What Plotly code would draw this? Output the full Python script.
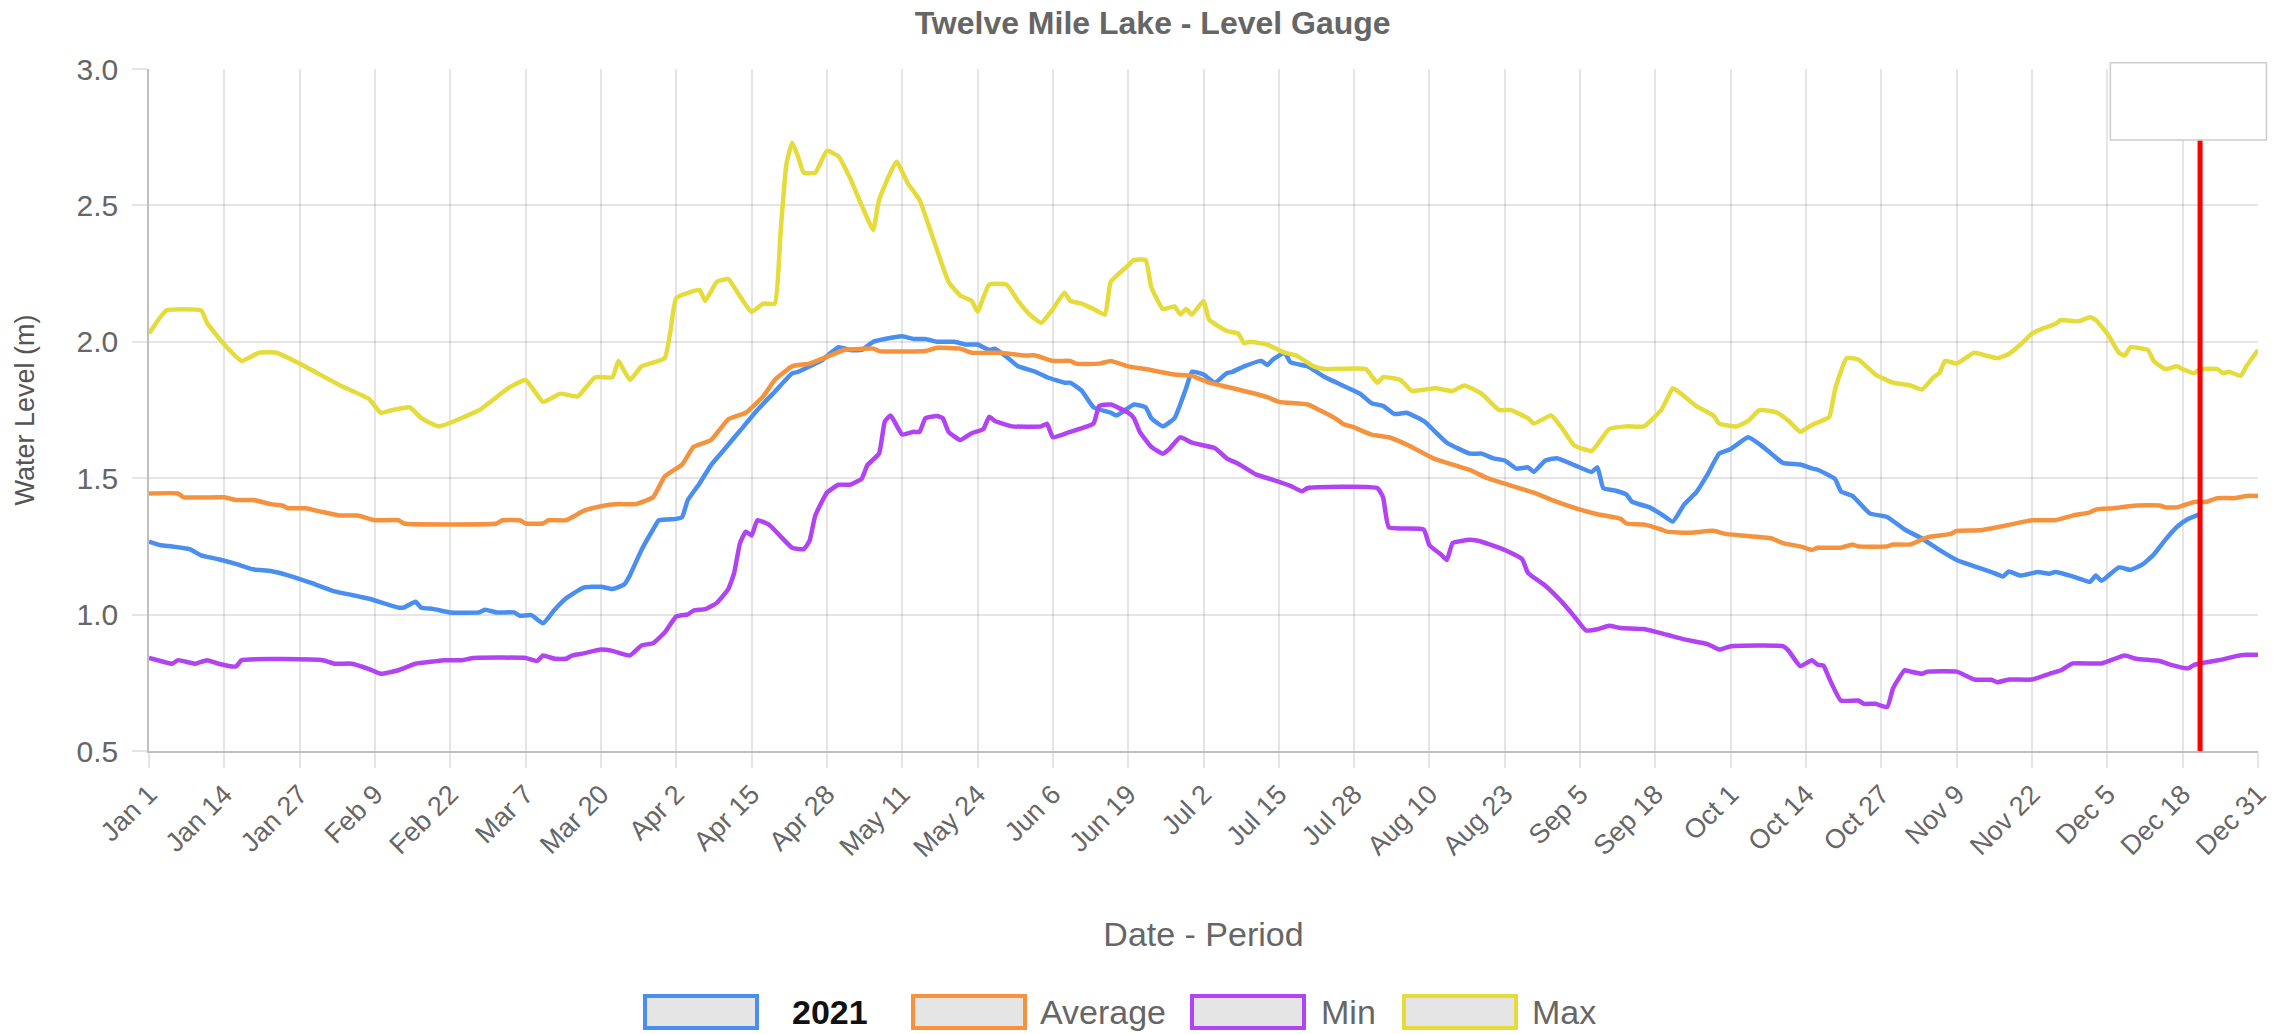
"""
Twelve Mile Lake - 水位图
2021 年水位与历年平均 / 最低 / 最高对比
"""
import plotly.graph_objects as go
import pandas as pd

YEAR_START = "2021-01-01"

# 2021 (日序号, 水位 m)
DAYS_2021 = [0, 2, 4, 7, 9, 12, 15, 18, 21, 24, 28, 32, 35, 38, 43, 44, 46, 47, 49, 52,
             57, 58, 60, 63, 64, 66, 68, 70, 72, 75, 78, 80, 82, 83, 85, 87, 88, 91, 92, 93,
             95, 97, 99, 102, 105, 108, 111, 112, 115, 116, 119, 121, 123, 125, 127, 130, 132, 134, 136, 139,
             141, 143, 145, 146, 148, 150, 153, 155, 158, 159, 161, 163, 166, 167, 170, 172, 173, 175, 177, 179,
             180, 182, 184, 186, 187, 189, 192, 193, 194, 196, 197, 200, 201, 203, 206, 209, 211, 213, 215, 217,
             220, 222, 224, 228, 230, 232, 234, 236, 238, 239, 241, 243, 246, 249, 250, 251, 253, 255, 256, 259,
             261, 263, 265, 267, 269, 271, 273, 276, 278, 280, 282, 285, 287, 288, 291, 292, 294, 297, 300, 303,
             306, 309, 312, 316, 318, 320, 321, 323, 326, 328, 329, 332, 333, 335, 336, 337, 340, 342, 344, 346,
             348, 350, 352, 354]
LEVEL_2021 = [1.267, 1.254, 1.25, 1.24, 1.217, 1.203, 1.186, 1.166, 1.16, 1.144, 1.116, 1.085, 1.072, 1.058, 1.026, 1.026, 1.047, 1.025, 1.021, 1.008,
              1.008, 1.018, 1.008, 1.008, 0.996, 0.998, 0.968, 1.018, 1.06, 1.099, 1.102, 1.094, 1.11, 1.144, 1.237, 1.312, 1.346, 1.351, 1.357, 1.42,
              1.48, 1.548, 1.598, 1.674, 1.75, 1.817, 1.884, 1.89, 1.92, 1.93, 1.98, 1.97, 1.97, 2.0, 2.01, 2.02, 2.01, 2.01, 2.0, 2.0,
              1.99, 1.99, 1.97, 1.975, 1.945, 1.91, 1.89, 1.87, 1.85, 1.85, 1.82, 1.76, 1.74, 1.73, 1.77, 1.76, 1.72, 1.69, 1.72, 1.83,
              1.89, 1.88, 1.85, 1.885, 1.89, 1.91, 1.93, 1.915, 1.935, 1.96, 1.925, 1.91, 1.897, 1.87, 1.84, 1.81, 1.775, 1.765, 1.735, 1.74,
              1.71, 1.67, 1.63, 1.59, 1.59, 1.573, 1.565, 1.535, 1.54, 1.523, 1.565, 1.573, 1.548, 1.523, 1.54, 1.464, 1.455, 1.44, 1.413, 1.393,
              1.368, 1.341, 1.405, 1.447, 1.514, 1.59, 1.607, 1.65, 1.624, 1.59, 1.556, 1.55, 1.536, 1.531, 1.497, 1.452, 1.435, 1.371, 1.358, 1.312,
              1.279, 1.237, 1.2, 1.17, 1.156, 1.14, 1.158, 1.143, 1.156, 1.15, 1.156, 1.14, 1.133, 1.12, 1.143, 1.124, 1.173, 1.164, 1.183, 1.22,
              1.274, 1.321, 1.351, 1.368]

# 平均
DAYS_AVG = [0, 5, 6, 13, 15, 18, 21, 23, 24, 27, 30, 33, 36, 39, 43, 44, 60, 61, 64, 65,
            68, 69, 72, 75, 78, 81, 84, 87, 89, 92, 94, 97, 100, 103, 106, 108, 111, 114, 117, 120,
            125, 126, 134, 136, 140, 142, 147, 151, 153, 156, 159, 160, 164, 166, 169, 172, 177, 180, 183, 185,
            188, 193, 195, 200, 202, 205, 206, 208, 211, 214, 217, 222, 225, 228, 231, 234, 239, 243, 247, 250,
            254, 255, 258, 261, 262, 266, 270, 272, 275, 280, 282, 285, 287, 288, 292, 294, 295, 300, 301, 304,
            307, 311, 312, 316, 319, 323, 325, 329, 332, 335, 336, 339, 343, 347, 348, 350, 353, 355, 357, 360,
            362, 364]
LEVEL_AVG = [1.444, 1.444, 1.43, 1.43, 1.42, 1.42, 1.405, 1.4, 1.39, 1.39, 1.376, 1.363, 1.363, 1.346, 1.346, 1.334, 1.334, 1.346, 1.346, 1.334,
             1.334, 1.346, 1.346, 1.38, 1.397, 1.405, 1.405, 1.43, 1.506, 1.55, 1.615, 1.64, 1.716, 1.74, 1.8, 1.86, 1.91, 1.92, 1.945, 1.97,
             1.975, 1.966, 1.966, 1.978, 1.975, 1.96, 1.96, 1.95, 1.95, 1.93, 1.93, 1.92, 1.92, 1.93, 1.91, 1.9, 1.88, 1.875, 1.85, 1.84,
             1.825, 1.797, 1.78, 1.77, 1.75, 1.716, 1.7, 1.686, 1.66, 1.65, 1.624, 1.57, 1.55, 1.53, 1.5, 1.48, 1.447, 1.413, 1.385, 1.368,
             1.351, 1.334, 1.33, 1.312, 1.304, 1.3, 1.307, 1.296, 1.29, 1.28, 1.262, 1.25, 1.237, 1.245, 1.245, 1.257, 1.25, 1.25, 1.257, 1.257,
             1.284, 1.296, 1.307, 1.309, 1.32, 1.338, 1.346, 1.346, 1.363, 1.375, 1.385, 1.39, 1.4, 1.4, 1.393, 1.393, 1.413, 1.413, 1.427, 1.427,
             1.435, 1.435]

# 最低
DAYS_MIN = [0, 2, 4, 5, 8, 10, 12, 15, 16, 30, 32, 35, 38, 40, 43, 46, 49, 51, 54, 56,
            65, 67, 68, 70, 72, 73, 75, 78, 80, 83, 85, 87, 89, 91, 93, 94, 96, 98, 100, 101,
            102, 103, 104, 105, 107, 109, 111, 113, 114, 115, 117, 119, 121, 123, 124, 126, 127, 128, 130, 132,
            133, 134, 136, 137, 138, 140, 142, 144, 145, 146, 149, 154, 155, 156, 159, 163, 164, 166, 169, 170,
            171, 173, 175, 176, 178, 180, 184, 186, 188, 191, 194, 197, 199, 200, 212, 213, 214, 220, 221, 223,
            224, 225, 228, 230, 234, 237, 238, 241, 244, 246, 248, 250, 252, 254, 258, 262, 265, 269, 271, 273,
            282, 283, 285, 287, 288, 289, 290, 292, 295, 296, 298, 300, 301, 303, 304, 306, 307, 312, 315, 318,
            319, 321, 325, 328, 330, 332, 337, 341, 343, 347, 349, 352, 353, 355, 358, 360, 362, 364]
LEVEL_MIN = [0.841, 0.83, 0.82, 0.833, 0.82, 0.833, 0.82, 0.81, 0.833, 0.833, 0.82, 0.82, 0.8, 0.783, 0.796, 0.82, 0.828, 0.833, 0.833, 0.841,
             0.841, 0.83, 0.85, 0.838, 0.838, 0.85, 0.858, 0.872, 0.867, 0.85, 0.887, 0.895, 0.934, 0.993, 1.001, 1.015, 1.02, 1.043, 1.094, 1.153,
             1.262, 1.304, 1.29, 1.346, 1.33, 1.287, 1.245, 1.24, 1.27, 1.363, 1.447, 1.476, 1.476, 1.498, 1.548, 1.59, 1.708, 1.73, 1.66, 1.67,
             1.67, 1.72, 1.728, 1.72, 1.67, 1.64, 1.665, 1.68, 1.725, 1.71, 1.69, 1.69, 1.7, 1.65, 1.67, 1.7, 1.765, 1.77, 1.74, 1.72,
             1.67, 1.615, 1.59, 1.605, 1.65, 1.63, 1.61, 1.573, 1.553, 1.514, 1.494, 1.472, 1.452, 1.464, 1.464, 1.43, 1.32, 1.312, 1.254, 1.22,
             1.2, 1.262, 1.274, 1.267, 1.237, 1.203, 1.153, 1.106, 1.043, 0.993, 0.942, 0.946, 0.959, 0.951, 0.947, 0.926, 0.909, 0.892, 0.872, 0.884,
             0.884, 0.867, 0.811, 0.833, 0.816, 0.813, 0.766, 0.685, 0.685, 0.673, 0.673, 0.661, 0.729, 0.796, 0.791, 0.783, 0.791, 0.791, 0.762, 0.761,
             0.752, 0.762, 0.762, 0.783, 0.796, 0.821, 0.821, 0.85, 0.838, 0.83, 0.816, 0.803, 0.816, 0.825, 0.836, 0.847, 0.853, 0.853]

# 最高
DAYS_MAX = [0, 3, 9, 10, 13, 16, 19, 22, 26, 33, 38, 40, 42, 45, 47, 50, 57, 62, 65, 68,
            71, 74, 77, 80, 81, 83, 85, 89, 90, 91, 95, 96, 98, 100, 101, 104, 106, 108, 109, 110,
            111, 112, 113, 115, 117, 119, 121, 123, 125, 126, 129, 131, 133, 135, 138, 140, 142, 143, 145, 148,
            150, 152, 154, 156, 158, 159, 161, 163, 165, 166, 169, 170, 172, 173, 175, 177, 178, 179, 180, 182,
            183, 186, 188, 189, 190, 193, 196, 198, 201, 203, 210, 212, 213, 216, 218, 222, 225, 227, 230, 233,
            235, 238, 239, 242, 244, 246, 249, 252, 255, 258, 261, 262, 263, 265, 267, 270, 271, 274, 276, 278,
            281, 283, 285, 287, 290, 291, 293, 295, 298, 301, 304, 306, 308, 309, 310, 312, 315, 317, 319, 321,
            323, 325, 327, 329, 330, 333, 335, 336, 338, 340, 341, 342, 345, 346, 348, 350, 351, 353, 354, 357,
            358, 359, 361, 362, 364]
LEVEL_MAX = [2.03, 2.115, 2.115, 2.07, 1.99, 1.93, 1.96, 1.96, 1.92, 1.84, 1.79, 1.74, 1.75, 1.76, 1.72, 1.69, 1.75, 1.83, 1.86, 1.78,
             1.81, 1.8, 1.87, 1.87, 1.93, 1.86, 1.91, 1.94, 2.04, 2.16, 2.19, 2.15, 2.22, 2.23, 2.2, 2.11, 2.14, 2.14, 2.4, 2.65,
             2.73, 2.68, 2.62, 2.62, 2.7, 2.68, 2.6, 2.5, 2.41, 2.52, 2.66, 2.58, 2.52, 2.4, 2.22, 2.17, 2.15, 2.11, 2.21, 2.21,
             2.15, 2.1, 2.07, 2.12, 2.18, 2.15, 2.14, 2.12, 2.1, 2.22, 2.28, 2.3, 2.3, 2.2, 2.12, 2.13, 2.1, 2.12, 2.1, 2.15,
             2.08, 2.04, 2.03, 1.995, 2.0, 1.99, 1.96, 1.95, 1.91, 1.9, 1.9, 1.85, 1.87, 1.86, 1.82, 1.83, 1.82, 1.84, 1.81, 1.75,
             1.75, 1.72, 1.7, 1.73, 1.68, 1.62, 1.6, 1.68, 1.69, 1.69, 1.75, 1.79, 1.83, 1.8, 1.765, 1.73, 1.7, 1.69, 1.71, 1.75,
             1.74, 1.71, 1.67, 1.695, 1.725, 1.825, 1.94, 1.935, 1.88, 1.85, 1.84, 1.825, 1.87, 1.885, 1.93, 1.92, 1.96, 1.95, 1.94, 1.955,
             1.99, 2.03, 2.05, 2.065, 2.08, 2.075, 2.09, 2.08, 2.03, 1.96, 1.95, 1.98, 1.97, 1.93, 1.9, 1.91, 1.9, 1.885, 1.9, 1.9,
             1.885, 1.89, 1.875, 1.91, 1.97]

# 当前日期 (Dec 21)
CURRENT_DAY = 354

TICK_DAYS = list(range(0, 365, 13))
TICK_LABELS = ["Jan 1", "Jan 14", "Jan 27", "Feb 9", "Feb 22", "Mar 7", "Mar 20", "Apr 2",
               "Apr 15", "Apr 28", "May 11", "May 24", "Jun 6", "Jun 19", "Jul 2", "Jul 15",
               "Jul 28", "Aug 10", "Aug 23", "Sep 5", "Sep 18", "Oct 1", "Oct 14", "Oct 27",
               "Nov 9", "Nov 22", "Dec 5", "Dec 18", "Dec 31"]

SERIES = [
    ("2021", DAYS_2021, LEVEL_2021, "#4a8ff0"),
    ("Average", DAYS_AVG, LEVEL_AVG, "#f5923e"),
    ("Min", DAYS_MIN, LEVEL_MIN, "#b143f2"),
    ("Max", DAYS_MAX, LEVEL_MAX, "#e5db3a"),
]


def to_dates(days):
    return pd.Timestamp(YEAR_START) + pd.to_timedelta(days, unit="D")


FONT = "Liberation Sans, Arial, Helvetica, sans-serif"
GRID = "rgba(0,0,0,0.1)"

fig = go.Figure()

for name, days, values, color in SERIES:
    fig.add_trace(
        go.Scatter(
            x=to_dates(days),
            y=values,
            mode="lines",
            name=name,
            line=dict(color=color, width=4.5, shape="spline", smoothing=0.4),
            showlegend=False,
        )
    )

# 当前日期红线
cur = to_dates([CURRENT_DAY])[0]
fig.add_shape(type="line", xref="x", yref="y", x0=cur, x1=cur, y0=0.5, y1=3.0,
              line=dict(color="#ff0000", width=5))

# 右上角空白提示框
fig.add_shape(type="rect", xref="paper", yref="paper", x0=0.930, x1=1.004, y0=0.896, y1=1.009,
              fillcolor="white", line=dict(color="#cccccc", width=1.5))

# 图例 (手工绘制的方框)
legend_items = [
    ("2021", "#4a8ff0", 645, 790, True),
    ("Average", "#f5923e", 913, 1038, False),
    ("Min", "#b143f2", 1192, 1319, False),
    ("Max", "#e5db3a", 1404, 1530, False),
]
W, H = 2287, 1034
L, R, T, B = 149, 29, 69, 283
pw, ph = W - L - R, H - T - B


def px_x(px):
    return (px - L) / pw


def px_y(py):
    return (H - B - py) / ph


for text, color, bx, tx, bold in legend_items:
    fig.add_shape(type="rect", xref="paper", yref="paper",
                  x0=px_x(bx), x1=px_x(bx + 112), y0=px_y(1028), y1=px_y(996),
                  fillcolor="#e5e5e5", line=dict(color=color, width=4))
    fig.add_annotation(
        xref="paper", yref="paper", x=px_x(tx), y=px_y(1012),
        text=f"<b>{text}</b>" if bold else text, showarrow=False,
        xanchor="left", yanchor="middle",
        font=dict(family=FONT, size=34, color="#111111" if bold else "#666666"),
    )

fig.update_layout(
    width=W, height=H,
    title=dict(text="<b>Twelve Mile Lake - Level Gauge</b>", x=0.504, xref="container",
               y=0.978, yref="container", yanchor="middle",
               font=dict(family=FONT, size=32, color="#666666")),
    plot_bgcolor="white",
    paper_bgcolor="white",
    margin=dict(l=L, r=R, t=T, b=B),
    showlegend=False,
    font=dict(family=FONT, color="#666666"),
)

fig.update_xaxes(
    range=[to_dates([0])[0], to_dates([364])[0]],
    tickvals=to_dates(TICK_DAYS),
    ticktext=TICK_LABELS,
    tickangle=-45,
    tickfont=dict(size=27, color="#666666"),
    showgrid=True, gridcolor=GRID, gridwidth=1.5,
    ticks="outside", ticklen=15, tickcolor=GRID, tickwidth=1.5,
    showline=True, linecolor="rgba(0,0,0,0.25)", linewidth=1.5,
    zeroline=False,
    title=dict(text="Date - Period", font=dict(size=34, color="#666666"), standoff=60),
)
fig.update_yaxes(
    range=[0.5, 3.0],
    dtick=0.5,
    tickformat=".1f",
    tickfont=dict(size=30, color="#666666"),
    ticklabelstandoff=8,
    showgrid=True, gridcolor=GRID, gridwidth=1.5,
    ticks="outside", ticklen=15, tickcolor=GRID, tickwidth=1.5,
    showline=True, linecolor="rgba(0,0,0,0.25)", linewidth=1.5,
    zeroline=False,
    title=dict(text="Water Level (m)", font=dict(size=27, color="#555555"), standoff=34),
)

# 去掉页面默认边距, 让图表贴齐窗口左上角
fig.write_html("out.html", config={"displayModeBar": False},
               post_script="document.body.style.margin='0';")
